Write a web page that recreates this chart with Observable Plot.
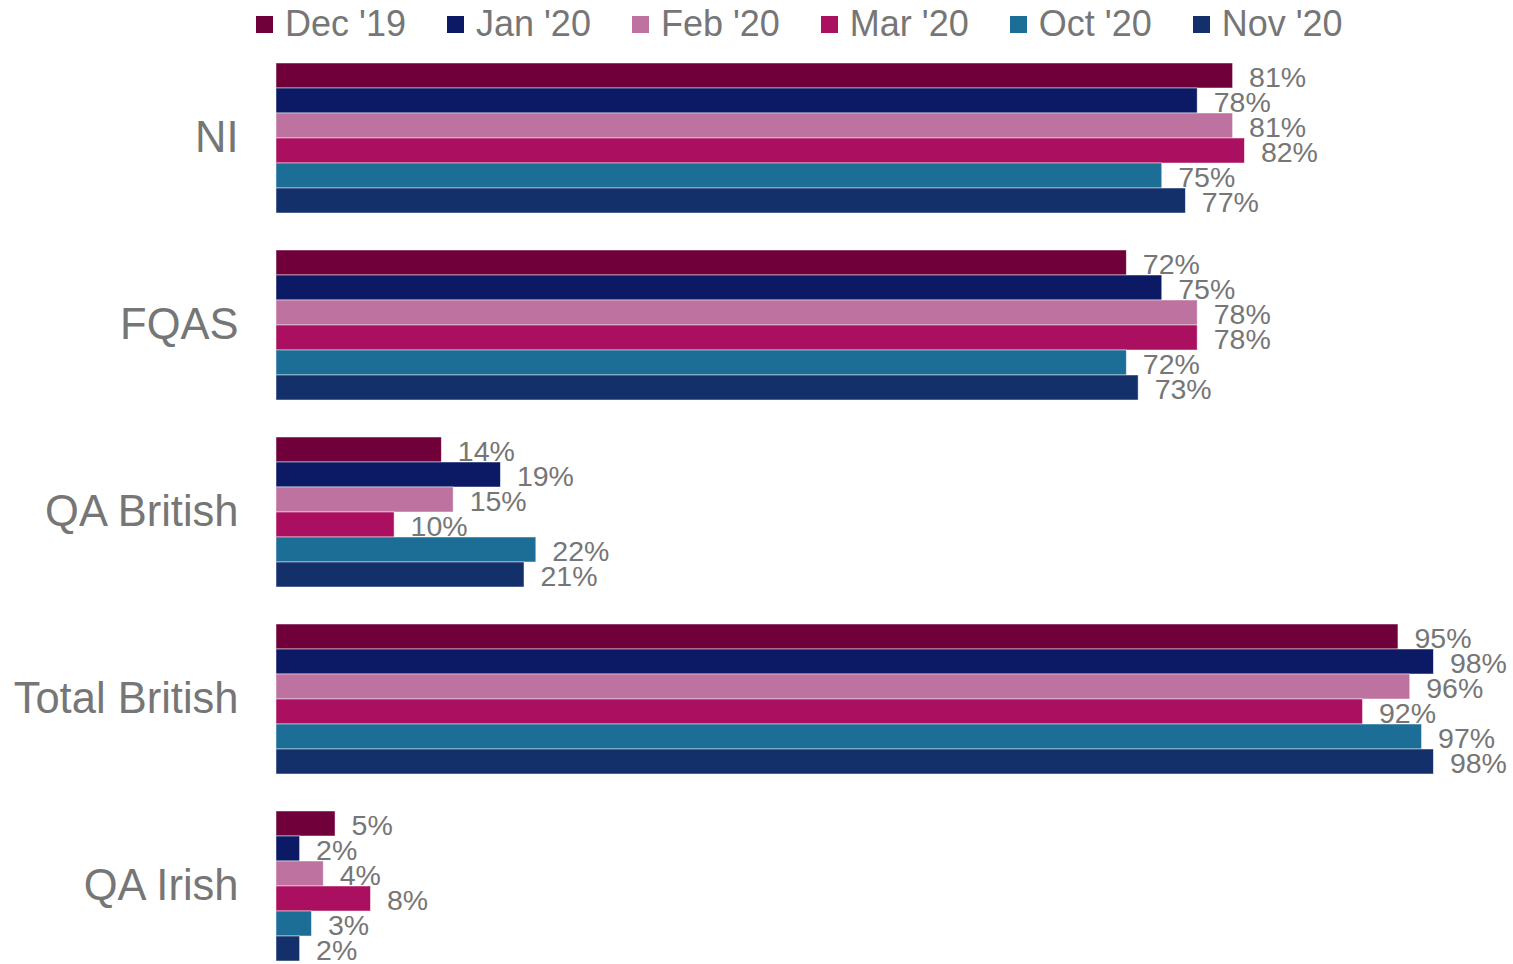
<!DOCTYPE html>
<html>
<head>
<meta charset="utf-8">
<script src="https://cdn.jsdelivr.net/npm/d3@7"></script>
<script src="https://cdn.jsdelivr.net/npm/@observablehq/plot@0.6"></script>
<style>
  html, body { margin: 0; padding: 0; background: #fff; }
  body { width: 1513px; height: 964px; overflow: hidden; font-family: "Liberation Sans", Arial, sans-serif; }
  #legend { height: 48px; display: flex; align-items: center; padding-left: 256px; box-sizing: border-box; }
  .item { display: flex; align-items: center; margin-right: 41px; font-size: 36px; color: #767676; white-space: nowrap; }
  .sw { width: 17px; height: 17px; margin-right: 12px; }
</style>
</head>
<body>
<div id="legend"></div>
<div id="chart"></div>
<script>
const categories = ["NI", "FQAS", "QA British", "Total British", "QA Irish"];
const series = ["Dec '19", "Jan '20", "Feb '20", "Mar '20", "Oct '20", "Nov '20"];
const colors = ["#70003a", "#0c1a66", "#bd72a0", "#ab0f5f", "#1d6e96", "#14306a"];
const NI = [81, 78, 81, 82, 75, 77];
const FQAS = [72, 75, 78, 78, 72, 73];
const QABritish = [14, 19, 15, 10, 22, 21];
const TotalBritish = [95, 98, 96, 92, 97, 98];
const QAIrish = [5, 2, 4, 8, 3, 2];

const valuesByCat = [NI, FQAS, QABritish, TotalBritish, QAIrish];
const data = [];
categories.forEach((c, i) => series.forEach((s, j) => data.push({cat: c, series: s, value: valuesByCat[i][j]})));

// legend
const leg = document.getElementById("legend");
series.forEach((s, j) => {
  const it = document.createElement("div");
  it.className = "item";
  const sw = document.createElement("div");
  sw.className = "sw";
  sw.style.background = colors[j];
  it.appendChild(sw);
  it.appendChild(document.createTextNode(s));
  leg.appendChild(it);
});

const chart = Plot.plot({
  width: 1513,
  height: 916,
  marginLeft: 276,
  marginRight: 56,
  marginTop: 14,
  marginBottom: 2,
  style: {fontFamily: "'Liberation Sans', Arial, sans-serif", color: "#767676", background: "#fff"},
  x: {domain: [0, 100], axis: null},
  y: {domain: series, padding: 0, axis: null},
  fy: {domain: categories, paddingInner: 0.2, paddingOuter: 0, label: null},
  color: {domain: series, range: colors},
  marks: [
    Plot.axisFy({anchor: "left", tickSize: 0, tickPadding: 38, fontSize: 43.5, label: null, fill: "#767676"}),
    Plot.barX(data, {x: "value", y: "series", fy: "cat", fill: "series", stroke: "#ffffff", strokeWidth: 0.8, strokeOpacity: 0.6}),
    Plot.text(data, {x: "value", y: "series", fy: "cat", text: d => d.value + "%", dx: 16, dy: 1.5, textAnchor: "start", fontSize: 28.5, fill: "#767676"})
  ]
});
document.getElementById("chart").appendChild(chart);
</script>
</body>
</html>
